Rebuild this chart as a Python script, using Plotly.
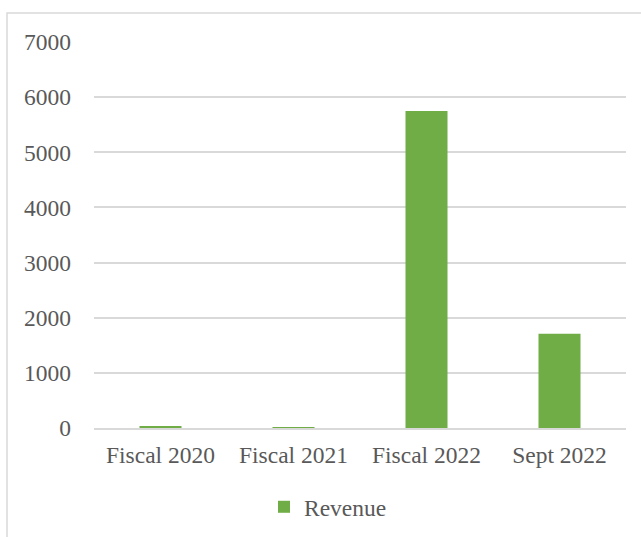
import plotly.graph_objects as go

categories = ["Fiscal 2020", "Fiscal 2021", "Fiscal 2022", "Sept 2022"]
revenue = [30, 12, 5750, 1710]
y_ticks = [0, 1000, 2000, 3000, 4000, 5000, 6000, 7000]

FONT = "Liberation Serif"
TXT = "#595959"
GRID = "#D9D9D9"

fig = go.Figure()
fig.add_trace(go.Bar(
    x=categories, y=revenue, name="Revenue",
    marker=dict(color="#70AD47", line=dict(width=0)),
    showlegend=True,
))

W, H = 641, 537
L, R, T, B = 94, 15, 42, 109
pw, ph = W - L - R, H - T - B

def px(x):
    return (x - L) / pw

def py(y):
    return (H - B - y) / ph

fig.update_layout(
    width=W, height=H,
    margin=dict(l=L, r=R, t=T, b=B, pad=0, autoexpand=False),
    paper_bgcolor="white", plot_bgcolor="white",
    font=dict(family=FONT, size=24, color=TXT),
    bargap=0.684,
    xaxis=dict(showgrid=False, showline=True, linecolor=GRID, linewidth=1.5,
               automargin=False, ticklabelstandoff=5,
               ticks="", tickfont=dict(family=FONT, size=23.5, color=TXT)),
    yaxis=dict(range=[0, 7000], tickvals=y_ticks, showgrid=True, gridcolor=GRID,
               gridwidth=1.5, zeroline=False, showline=False, ticks="", automargin=False,
               ticklabelstandoff=22, tickfont=dict(family=FONT, size=23.5, color=TXT)),
    legend=dict(orientation="h", x=px(264), y=py(507), xanchor="left", yanchor="middle",
                font=dict(family=FONT, size=23.5, color=TXT), itemwidth=30,
                bgcolor="rgba(0,0,0,0)"),
    shapes=[dict(type="rect", xref="paper", yref="paper",
                 x0=px(7), x1=px(660), y0=py(560), y1=py(13),
                 line=dict(color=GRID, width=1.5), fillcolor="rgba(0,0,0,0)", layer="below")],
)

fig.write_html("out.html", config={"displayModeBar": False},
               post_script="document.body.style.margin='0';document.body.style.overflow='hidden';")
